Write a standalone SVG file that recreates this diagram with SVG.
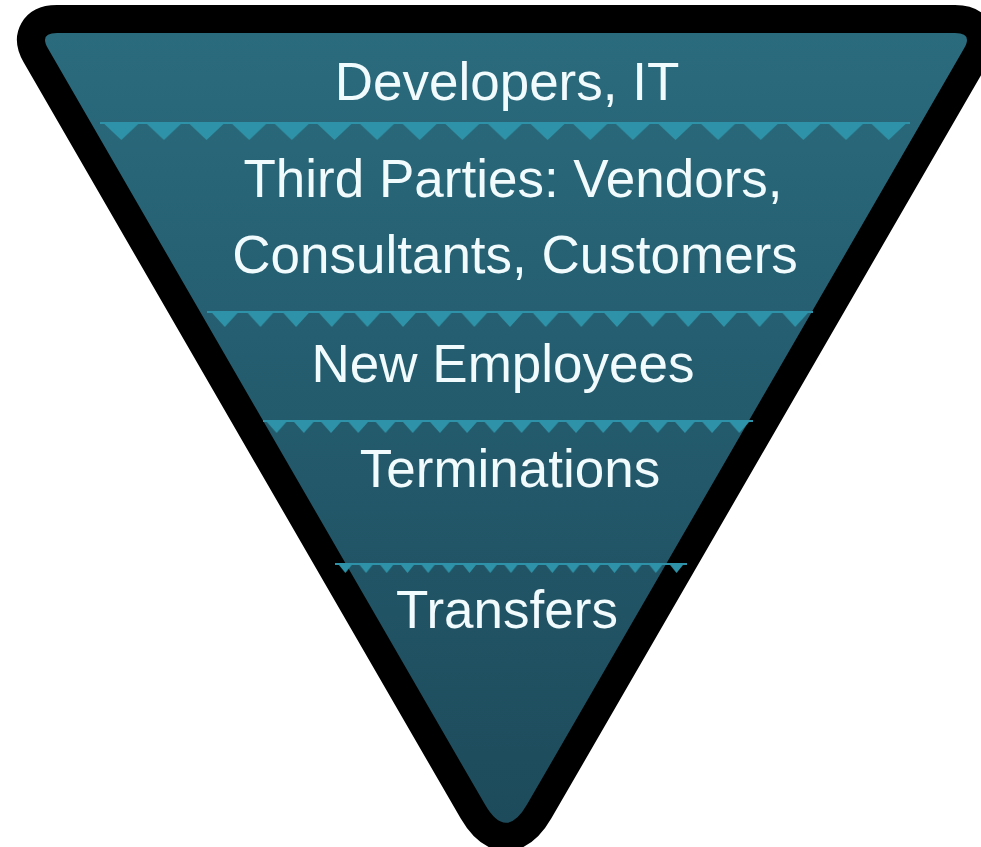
<svg xmlns="http://www.w3.org/2000/svg" width="981" height="847" viewBox="0 0 981 847">
  <style>
    .lbl { font-family: "Liberation Sans", Arial, sans-serif; font-size: 53px; fill: #F1FAFC; text-anchor: middle; }
    .tri { fill: #2E93A8; }
  </style>
  <defs>
    <linearGradient id="body" x1="0" y1="33" x2="0" y2="823" gradientUnits="userSpaceOnUse">
      <stop offset="0" stop-color="#2A6B7D"/>
      <stop offset="0.5" stop-color="#235A6C"/>
      <stop offset="1" stop-color="#1D4B5B"/>
    </linearGradient>
    <pattern id="z1" patternUnits="userSpaceOnUse" x="100" y="122" width="42.63" height="18">
      <rect class="tri" x="0" y="0" width="42.63" height="2"/>
      <polygon class="tri" points="2.3,0 40.3,0 21.3,18"/>
    </pattern>
    <pattern id="z2" patternUnits="userSpaceOnUse" x="207" y="311" width="35.65" height="16">
      <rect class="tri" x="0" y="0" width="35.65" height="2"/>
      <polygon class="tri" points="3.3,0 32.3,0 17.8,16"/>
    </pattern>
    <pattern id="z3" patternUnits="userSpaceOnUse" x="263" y="420" width="27.22" height="13">
      <rect class="tri" x="0" y="0" width="27.22" height="2"/>
      <polygon class="tri" points="2.1,0 25.1,0 13.6,13"/>
    </pattern>
    <pattern id="z4" patternUnits="userSpaceOnUse" x="335" y="563" width="20.7" height="10">
      <rect class="tri" x="0" y="0" width="20.7" height="2"/>
      <polygon class="tri" points="2.35,0 18.35,0 10.35,10"/>
    </pattern>
  </defs>

  <g id="funnel">
    <path d="M57,33 L955,33 Q973,33 964,48.6 L527,804.6 Q506,841 485,804.6 L48,48.6 Q39,33 57,33 Z"
          fill="url(#body)" stroke="#000" stroke-width="56" stroke-linejoin="round" paint-order="stroke"/>
  </g>

  <g id="dividers">
    <rect x="100" y="122" width="810" height="18" fill="url(#z1)"/>
    <rect x="207" y="311" width="606" height="16" fill="url(#z2)"/>
    <rect x="263" y="420" width="490" height="13" fill="url(#z3)"/>
    <rect x="335" y="563" width="352" height="10" fill="url(#z4)"/>
  </g>

  <g id="layer-developers">
    <text class="lbl" x="507" y="100">Developers, IT</text>
  </g>
  <g id="layer-third-parties">
    <text class="lbl" x="513" y="197">Third Parties: Vendors,</text>
    <text class="lbl" x="515" y="273">Consultants, Customers</text>
  </g>
  <g id="layer-new-employees">
    <text class="lbl" x="503" y="382">New Employees</text>
  </g>
  <g id="layer-terminations">
    <text class="lbl" x="510" y="487">Terminations</text>
  </g>
  <g id="layer-transfers">
    <text class="lbl" x="507" y="628">Transfers</text>
  </g>
</svg>
